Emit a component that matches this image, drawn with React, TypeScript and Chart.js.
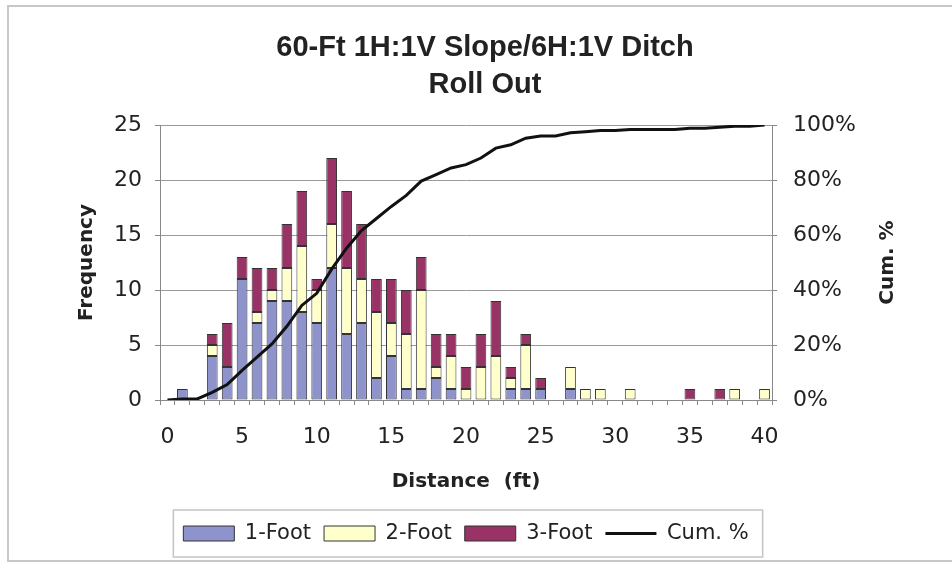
import React, { useEffect, useRef } from 'react';
import { Chart, registerables } from 'chart.js';

Chart.register(...registerables);

const chartTitle = ['60-Ft 1H:1V Slope/6H:1V Ditch', 'Roll Out'];
const xAxisTitle = 'Distance  (ft)';
const yAxisTitle = 'Frequency';
const y2AxisTitle = 'Cum. %';
const seriesNames = ['1-Foot', '2-Foot', '3-Foot', 'Cum. %'];

const categories = [
  '0', '1', '2', '3', '4', '5', '6', '7', '8', '9', '10',
  '11', '12', '13', '14', '15', '16', '17', '18', '19', '20',
  '21', '22', '23', '24', '25', '26', '27', '28', '29', '30',
  '31', '32', '33', '34', '35', '36', '37', '38', '39', '40',
];
const xTickLabels = ['0', '5', '10', '15', '20', '25', '30', '35', '40'];

const oneFoot = [
  0, 1, 0, 4, 3, 11, 7, 9, 9, 8, 7,
  12, 6, 7, 2, 4, 1, 1, 2, 1, 0,
  0, 0, 1, 1, 1, 0, 1, 0, 0, 0,
  0, 0, 0, 0, 0, 0, 0, 0, 0, 0,
];
const twoFoot = [
  0, 0, 0, 1, 0, 0, 1, 1, 3, 6, 3,
  4, 6, 4, 6, 3, 5, 9, 1, 3, 1,
  3, 4, 1, 4, 0, 0, 2, 1, 1, 0,
  1, 0, 0, 0, 0, 0, 0, 1, 0, 1,
];
const threeFoot = [
  0, 0, 0, 1, 4, 2, 4, 2, 4, 5, 1,
  6, 7, 5, 3, 4, 4, 3, 3, 2, 2,
  3, 5, 1, 1, 1, 0, 0, 0, 0, 0,
  0, 0, 0, 0, 1, 0, 1, 0, 0, 0,
];
const cumPercent = [
  0, 0.4, 0.4, 2.8, 5.6, 10.8, 15.6, 20.4, 26.8, 34.4, 38.8,
  47.6, 55.2, 61.6, 66, 70.4, 74.4, 79.6, 82, 84.4, 85.6,
  88, 91.6, 92.8, 95.2, 96, 96, 97.2, 97.6, 98, 98,
  98.4, 98.4, 98.4, 98.4, 98.8, 98.8, 99.2, 99.6, 99.6, 100,
];

const leftMin = 0;
const leftMax = 25;
const leftStep = 5;
const rightMin = 0;
const rightMax = 100;
const rightStep = 20;

const FONT = "'DejaVu Sans', sans-serif";
const TITLE_FONT = "'Liberation Sans', Arial, sans-serif";
const TEXT = '#222222';
const AXIS = '#888888';

const legendFramePlugin = {
  id: 'legendFrame',
  afterDraw(chart: any) {
    const lg = chart.legend;
    if (!lg || !lg.legendHitBoxes || !lg.legendHitBoxes.length) return;
    const hb = lg.legendHitBoxes;
    let l = Infinity, r = -Infinity;
    hb.forEach((h: any) => {
      l = Math.min(l, h.left);
      r = Math.max(r, h.left + h.width);
    });
    const ctx = chart.ctx;
    ctx.save();
    ctx.strokeStyle = '#c4c4c4';
    ctx.lineWidth = 1.5;
    ctx.strokeRect(l - 10, lg.top, r - l + 24, 47);
    ctx.restore();
  },
};

const rightTitlePlugin = {
  id: 'rightTitle',
  afterDraw(chart: any) {
    const area = chart.chartArea;
    const ctx = chart.ctx;
    ctx.save();
    ctx.translate(888, (area.top + area.bottom) / 2);
    ctx.rotate(-Math.PI / 2);
    ctx.font = `bold 20px ${FONT}`;
    ctx.fillStyle = TEXT;
    ctx.textAlign = 'center';
    ctx.textBaseline = 'middle';
    ctx.fillText(y2AxisTitle, 0, 0);
    ctx.restore();
  },
};

export default function App() {
  const canvasRef = useRef<HTMLCanvasElement | null>(null);

  useEffect(() => {
    if (!canvasRef.current) return;
    const nz = (arr: number[]) => arr.map((v) => (v === 0 ? null : v));
    const barCommon = {
      borderColor: '#333333',
      borderWidth: 1,
      borderSkipped: false,
      barPercentage: 0.72,
      categoryPercentage: 1,
      yAxisID: 'y',
      stack: 's',
      order: 1,
      pointStyle: 'rect',
    };
    const chart = new Chart(canvasRef.current, {
      type: 'bar',
      data: {
        labels: categories,
        datasets: [
          { ...barCommon, label: seriesNames[0], data: nz(oneFoot), backgroundColor: '#8f93cb' },
          { ...barCommon, label: seriesNames[1], data: nz(twoFoot), backgroundColor: '#ffffcc' },
          { ...barCommon, label: seriesNames[2], data: nz(threeFoot), backgroundColor: '#993366' },
          {
            type: 'line',
            label: seriesNames[3],
            data: cumPercent,
            yAxisID: 'y1',
            borderColor: '#111111',
            backgroundColor: '#111111',
            borderWidth: 3,
            pointRadius: 0,
            tension: 0,
            fill: false,
            order: 0,
            pointStyle: 'line',
          },
        ] as any,
      },
      options: {
        responsive: false,
        animation: false,
        devicePixelRatio: 1,
        layout: { padding: { left: 18, right: 0, top: 0, bottom: 12 } },
        plugins: {
          title: {
            display: true,
            text: chartTitle,
            color: TEXT,
            font: { family: TITLE_FONT, size: 29, weight: 'bold', lineHeight: 1.28 },
            padding: { top: 29.5, bottom: 21.3 },
          },
          legend: {
            position: 'bottom',
            fullSize: false,
            labels: {
              usePointStyle: true,
              pointStyleWidth: 51,
              boxHeight: 15,
              padding: 13,
              color: TEXT,
              font: { family: FONT, size: 21 },
              sort: (a: any, b: any) => a.datasetIndex - b.datasetIndex,
            },
          },
          tooltip: { enabled: false },
        },
        scales: {
          x: {
            type: 'category',
            stacked: true,
            offset: true,
            grid: {
              display: true,
              drawOnChartArea: false,
              drawTicks: true,
              tickLength: 5,
              color: AXIS,
              offset: true,
            },
            border: { display: true, color: AXIS, width: 1 },
            ticks: {
              autoSkip: false,
              maxRotation: 0,
              minRotation: 0,
              padding: 19,
              color: TEXT,
              font: { family: FONT, size: 22 },
              callback: (_v: any, i: number) =>
                xTickLabels.includes(categories[i]) ? categories[i] : '',
            },
            title: {
              display: true,
              text: xAxisTitle,
              color: TEXT,
              font: { family: FONT, size: 20, weight: 'bold' },
              padding: { top: 0, bottom: 16 },
            },
            afterFit: (s: any) => {
              s.height = 110;
            },
          },
          y: {
            position: 'left',
            stacked: true,
            min: leftMin,
            max: leftMax,
            ticks: {
              stepSize: leftStep,
              padding: 13,
              color: TEXT,
              font: { family: FONT, size: 22 },
            },
            grid: { color: '#9a9a9a', lineWidth: 1, tickLength: 5, tickColor: AXIS },
            border: { display: true, color: AXIS, width: 1 },
            title: {
              display: true,
              text: yAxisTitle,
              color: TEXT,
              font: { family: FONT, size: 20, weight: 'bold' },
              padding: { top: 57, bottom: 0 },
            },
            afterFit: (s: any) => {
              s.width = 142;
            },
          },
          y1: {
            position: 'right',
            stacked: false,
            min: rightMin,
            max: rightMax,
            ticks: {
              stepSize: rightStep,
              padding: 16,
              color: TEXT,
              font: { family: FONT, size: 22 },
              callback: (v: any) => `${v}%`,
            },
            grid: { drawOnChartArea: false, tickLength: 5, color: AXIS },
            border: { display: true, color: AXIS, width: 1 },
            afterFit: (s: any) => {
              s.width = 180;
            },
          },
        },
      } as any,
      plugins: [legendFramePlugin, rightTitlePlugin],
    });
    return () => chart.destroy();
  }, []);

  return (
    <div
      style={{
        position: 'fixed',
        left: 0,
        top: 0,
        width: 952,
        height: 566,
        overflow: 'hidden',
        background: '#ffffff',
      }}
    >
      <div
        style={{
          position: 'absolute',
          left: 7,
          top: 5,
          width: 1000,
          height: 553,
          border: '2px solid #c8c8c8',
        }}
      />
      <canvas
        ref={canvasRef}
        width={952}
        height={566}
        style={{ position: 'absolute', left: 0, top: 0, width: 952, height: 566 }}
      />
    </div>
  );
}
